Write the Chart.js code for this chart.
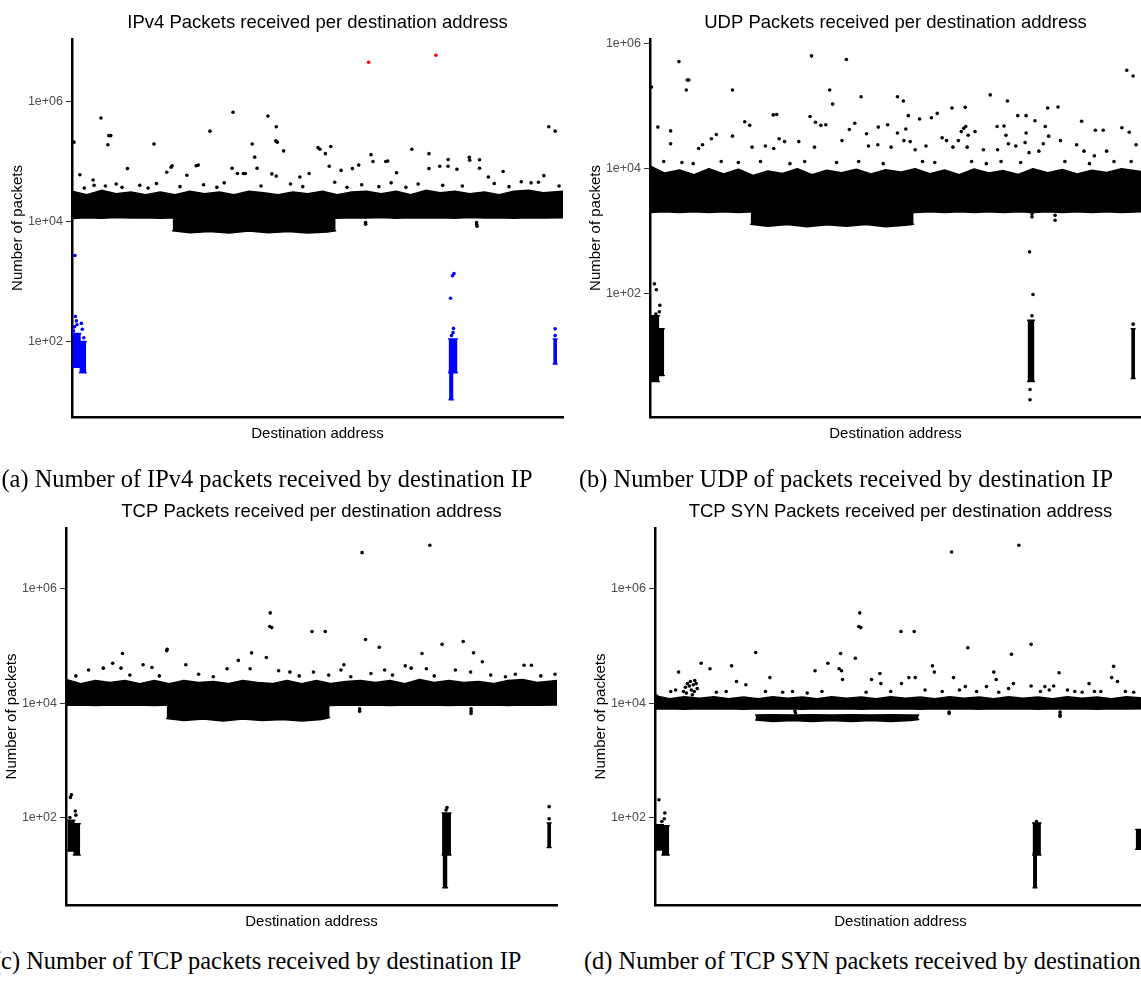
<!DOCTYPE html>
<html>
<head>
<meta charset="utf-8">
<script src="https://cdn.jsdelivr.net/npm/chart.js@4.4.0/dist/chart.umd.min.js"></script>
<style>
body { margin: 0; width: 1141px; height: 981px; overflow: hidden; background: #fff; position: relative; }
.panel { position: absolute; width: 575px; }
.caption { position: absolute; font-family: 'Liberation Serif', 'Times New Roman', serif; font-size: 24.4px; line-height: 24px; white-space: nowrap; color: #000; }
</style>
</head>
<body>
<div class="panel" style="left:0px;top:0px;height:450px"><canvas id="chartA"></canvas></div>
<div class="panel" style="left:578px;top:0px;height:450px"><canvas id="chartB"></canvas></div>
<div class="panel" style="left:-6px;top:489px;height:449px"><canvas id="chartC"></canvas></div>
<div class="panel" style="left:583px;top:489px;height:449px"><canvas id="chartD"></canvas></div>
<div class="caption" style="left:1.5px;top:467px">(a) Number of IPv4 packets received by destination IP</div>
<div class="caption" style="left:579px;top:467px">(b) Number UDP of packets received by destination IP</div>
<div class="caption" style="left:-7px;top:949px">(c) Number of TCP packets received by destination IP</div>
<div class="caption" style="left:584px;top:949px">(d) Number of TCP SYN packets received by destination IP</div>
<script>
// y axis ticks shared by the four plots
const tickValues = [1e2, 1e4, 1e6];
const tickLabels = ['1e+02', '1e+04', '1e+06'];

// x positions (percent of the address range) for the main dense band
const bandXs = [0, 3, 6, 9, 12, 15, 18, 21, 24, 27, 30, 33, 36, 39, 42, 45, 48, 51, 54, 57, 60, 63, 66, 69, 72, 75, 78, 81, 84, 87, 90, 93, 96, 100];
// x positions of the lower block between ~20% and ~54%
const subXs = [20.5, 24, 28, 32, 36, 40, 44, 48, 52, 53.7];

// ---- (a) IPv4 ----
const ipv4BandLow = [1.12e4, 1.15e4, 1.13e4, 1.16e4, 1.14e4, 1.15e4, 1.13e4, 1.15e4, 1.14e4, 1.16e4, 1.13e4, 1.15e4, 1.14e4, 1.15e4, 1.13e4, 1.16e4, 1.14e4, 1.15e4, 1.13e4, 1.15e4, 1.14e4, 1.16e4, 1.13e4, 1.15e4, 1.14e4, 1.15e4, 1.13e4, 1.16e4, 1.14e4, 1.15e4, 1.13e4, 1.15e4, 1.14e4, 1.15e4];
const ipv4BandHigh = [3.2e4, 2.8e4, 3.3e4, 2.9e4, 3.1e4, 2.8e4, 3.1e4, 2.8e4, 3.2e4, 2.9e4, 3.1e4, 2.8e4, 3.2e4, 3.0e4, 2.8e4, 3.1e4, 2.9e4, 3.2e4, 2.8e4, 3.1e4, 3.2e4, 2.9e4, 3.2e4, 2.8e4, 3.3e4, 3.0e4, 3.2e4, 2.9e4, 3.1e4, 2.8e4, 3.2e4, 3.3e4, 3.0e4, 3.2e4];
const ipv4SubLow = [7.0e3, 6.5e3, 6.8e3, 6.4e3, 6.9e3, 6.5e3, 6.8e3, 6.4e3, 6.7e3, 7.0e3];
const ipv4SubHigh = [1.2e4, 1.2e4, 1.2e4, 1.2e4, 1.2e4, 1.2e4, 1.2e4, 1.2e4, 1.2e4, 1.2e4];
// low-count clusters: [x from, x to, low, high]
const ipv4Clusters = [[0.1, 1.8, 37, 135], [1.5, 2.9, 30, 100], [76.7, 78.5, 30, 110], [76.8, 77.7, 10.7, 32], [98.0, 98.8, 42, 110]];
const ipv4BluePoints = [[0.6, 2700], [0.7, 260], [0.9, 220], [1.0, 190], [1.9, 200], [2.1, 160], [0.5, 175], [0.3, 150], [2.4, 115], [77.7, 165], [77.6, 140], [77.3, 125], [77.1, 525], [77.5, 1250], [77.8, 1350], [98.4, 162], [98.4, 125]];
const ipv4RedPoints = [[60.4, 4.5e6], [74.1, 5.9e6]];
const ipv4Points = [
  [0.4, 2.1e5], [1.6, 6e4], [5.9, 5.3e5], [7.5, 2.7e5], [7.9, 2.7e5], [7.3, 1.9e5], [16.7, 1.95e5], [11.3, 7.6e4],
  [4.3, 4.9e4], [4.5, 4.0e4], [19.3, 6.6e4], [20.4, 8.5e4], [20.2, 8.0e4], [23.4, 5.9e4], [25.3, 8.5e4], [25.7, 8.7e4],
  [28.1, 3.2e5], [32.8, 6.6e5], [32.6, 7.7e4], [33.7, 6.3e4], [34.9, 6.3e4], [35.3, 6.3e4], [36.7, 1.95e5], [37.2, 1.18e5],
  [37.7, 7.7e4], [39.9, 5.7e5], [41.6, 3.8e5], [41.5, 2.2e5], [41.8, 2.1e5], [43.1, 1.5e5], [40.7, 6.2e4], [41.6, 5.7e4],
  [46.4, 5.5e4], [48.3, 6.3e4], [50.1, 1.7e5], [50.5, 1.6e5], [51.6, 1.35e5], [52.7, 1.78e5], [52.4, 8.3e4], [54.8, 7.1e4],
  [57.1, 7.6e4], [58.4, 8.7e4], [60.9, 1.3e5], [61.3, 1.0e5], [63.9, 1.0e5], [64.3, 1.02e5], [66.1, 6.5e4], [69.2, 1.6e5],
  [72.7, 1.35e5], [72.7, 7.6e4], [74.9, 8.3e4], [76.6, 1.08e5], [76.6, 8.3e4], [78.4, 7.4e4], [80.9, 1.17e5], [81.0, 1.05e5],
  [83.0, 1.07e5], [83.0, 7.7e4], [84.8, 5.5e4], [87.8, 6.8e4], [96.1, 5.8e4], [97.1, 3.8e5], [98.4, 3.2e5],
  [2.5, 3.6e4], [6.8, 3.9e4], [9.0, 4.2e4], [10.2, 3.7e4], [13.8, 4.0e4], [15.5, 3.6e4], [17.2, 4.3e4], [22.0, 3.8e4],
  [26.8, 4.1e4], [29.5, 3.7e4], [31.0, 4.4e4], [38.5, 3.9e4], [44.5, 4.2e4], [47.0, 3.8e4], [53.5, 4.5e4], [56.0, 3.7e4],
  [59.0, 4.1e4], [62.5, 3.8e4], [65.0, 4.4e4], [68.0, 3.7e4], [70.5, 4.2e4], [75.5, 4.0e4], [79.5, 3.9e4], [86.0, 4.3e4],
  [89.0, 3.8e4], [91.5, 4.6e4], [93.5, 4.4e4], [95.0, 4.5e4], [99.2, 3.9e4],
  [59.8, 9.6e3], [59.8, 9.0e3], [82.4, 9.6e3], [82.4, 8.9e3], [82.5, 8.3e3]
];

// ---- (b) UDP ----
const udpBandLow = [2.0e3, 2.05e3, 2.0e3, 2.05e3, 2.0e3, 2.05e3, 2.0e3, 2.05e3, 2.0e3, 2.05e3, 2.0e3, 2.05e3, 2.0e3, 2.05e3, 2.0e3, 2.05e3, 2.0e3, 2.05e3, 2.0e3, 2.05e3, 2.0e3, 2.05e3, 2.0e3, 2.05e3, 2.0e3, 2.05e3, 2.0e3, 2.05e3, 2.0e3, 2.05e3, 2.0e3, 2.05e3, 2.0e3, 2.05e3];
const udpBandHigh = [1.1e4, 8.5e3, 9.5e3, 8.0e3, 1.0e4, 8.2e3, 9.8e3, 7.8e3, 9.2e3, 8.4e3, 1.0e4, 8.0e3, 9.4e3, 8.6e3, 9.8e3, 8.2e3, 9.6e3, 8.8e3, 1.0e4, 8.3e3, 9.5e3, 8.0e3, 9.9e3, 8.5e3, 9.3e3, 8.1e3, 1.0e4, 8.6e3, 9.7e3, 8.2e3, 9.4e3, 8.7e3, 1.0e4, 9.0e3];
const udpSubLow = [1.3e3, 1.2e3, 1.28e3, 1.18e3, 1.27e3, 1.2e3, 1.28e3, 1.18e3, 1.25e3, 1.3e3];
const udpSubHigh = [2.1e3, 2.1e3, 2.1e3, 2.1e3, 2.1e3, 2.1e3, 2.1e3, 2.1e3, 2.1e3, 2.1e3];
const udpClusters = [[0.2, 1.9, 4.0, 45], [1.5, 2.9, 5, 28], [76.9, 78.3, 4.0, 38], [98.0, 98.8, 4.5, 28]];
const udpLowPoints = [[0.9, 145], [1.3, 117], [2.0, 66], [1.9, 52], [1.2, 48], [77.3, 470], [78.0, 98], [77.8, 45], [77.4, 3.0], [77.4, 2.05], [98.4, 33]];
const udpPoints = [
  [0.3, 2e5], [1.6, 4.6e4], [5.9, 5.1e5], [7.6, 2.6e5], [7.9, 2.6e5], [7.4, 1.8e5], [4.2, 4e4], [4.2, 2.5e4],
  [16.8, 1.8e5], [13.5, 3.5e4], [12.5, 3e4], [16.8, 3.3e4], [19.3, 5.6e4], [20.3, 4.9e4], [9.9, 2.1e4], [10.7, 2.4e4],
  [25.1, 7.2e4], [25.8, 7.3e4], [26.3, 3e4], [27.4, 2.7e4], [20.8, 2.2e4], [23.5, 2.3e4], [25.2, 2.1e4], [32.9, 6.3e5],
  [32.6, 6.8e4], [33.7, 5.5e4], [34.8, 4.9e4], [35.8, 5.0e4], [33.5, 2.2e4], [30.3, 2.7e4], [36.6, 1.8e5], [37.2, 1.07e5],
  [40.0, 5.5e5], [39.1, 2.8e4], [40.6, 4.2e4], [41.7, 5.3e4], [43.0, 1.4e5], [44.1, 3.6e4], [44.5, 2.3e4], [46.4, 2.4e4],
  [46.5, 4.6e4], [48.4, 5e4], [49.1, 2.2e4], [50.4, 1.4e5], [51.6, 1.2e5], [50.4, 3.7e4], [52.1, 4.3e4], [51.7, 2.8e4],
  [52.6, 7e4], [53.0, 2.7e4], [54.0, 2.0e4], [54.9, 6.2e4], [56.2, 2.3e4], [57.3, 6.5e4], [58.5, 7.6e4], [59.5, 3.1e4],
  [60.4, 2.8e4], [61.5, 9.3e4], [61.7, 2.2e4], [62.8, 2.8e4], [63.4, 3.9e4], [64.2, 9.5e4], [63.9, 4.4e4], [64.3, 4.7e4],
  [64.6, 2.2e4], [64.8, 3.4e4], [66.2, 3.9e4], [67.9, 2.0e4], [69.3, 1.5e5], [70.7, 4.7e4], [72.1, 4.8e4], [70.8, 2.0e4],
  [72.8, 1.2e5], [72.5, 3.4e4], [73.0, 2.5e4], [74.5, 2.3e4], [74.9, 7e4], [76.6, 7e4], [76.6, 3.7e4], [76.4, 2.6e4],
  [78.4, 5.8e4], [77.2, 1.8e4], [79.2, 1.9e4], [80.1, 2.5e4], [81.2, 3.3e4], [80.5, 4.7e4], [81.0, 9.3e4], [83.1, 9.6e4],
  [83.6, 2.8e4], [86.9, 2.4e4], [87.9, 5.7e4], [88.4, 1.9e4], [90.5, 1.6e4], [90.7, 4.1e4], [92.3, 4.1e4], [93.0, 1.9e4],
  [96.1, 4.5e4], [97.6, 3.8e4], [99.0, 2.4e4], [97.1, 3.7e5], [98.4, 3.0e5],
  [2.8, 1.3e4], [6.5, 1.25e4], [8.8, 1.2e4], [14.5, 1.3e4], [18.0, 1.25e4], [22.5, 1.3e4], [28.5, 1.2e4], [31.5, 1.3e4],
  [38.0, 1.25e4], [42.5, 1.3e4], [47.5, 1.2e4], [55.5, 1.3e4], [58.0, 1.25e4], [65.5, 1.3e4], [68.5, 1.2e4], [71.5, 1.3e4],
  [75.5, 1.25e4], [84.5, 1.3e4], [89.5, 1.2e4], [94.5, 1.3e4], [98.0, 1.3e4],
  [77.8, 1.9e3], [77.8, 1.7e3], [82.5, 1.8e3], [82.5, 1.5e3]
];

// ---- (c) TCP ----
const tcpBandLow = [9.2e3, 9.3e3, 9.1e3, 9.3e3, 9.2e3, 9.3e3, 9.1e3, 9.3e3, 9.2e3, 9.3e3, 9.1e3, 9.3e3, 9.2e3, 9.3e3, 9.1e3, 9.3e3, 9.2e3, 9.3e3, 9.1e3, 9.3e3, 9.2e3, 9.3e3, 9.1e3, 9.3e3, 9.2e3, 9.3e3, 9.1e3, 9.3e3, 9.2e3, 9.3e3, 9.1e3, 9.3e3, 9.2e3, 9.3e3];
const tcpBandHigh = [2.6e4, 2.2e4, 2.5e4, 2.3e4, 2.5e4, 2.2e4, 2.5e4, 2.2e4, 2.5e4, 2.3e4, 2.4e4, 2.2e4, 2.5e4, 2.3e4, 2.2e4, 2.5e4, 2.2e4, 2.5e4, 2.2e4, 2.4e4, 2.5e4, 2.3e4, 2.5e4, 2.2e4, 2.6e4, 2.3e4, 2.5e4, 2.3e4, 2.4e4, 2.2e4, 2.5e4, 2.6e4, 2.3e4, 2.5e4];
const tcpSubLow = [5.4e3, 5.0e3, 5.3e3, 4.9e3, 5.3e3, 5.0e3, 5.2e3, 4.9e3, 5.2e3, 5.6e3];
const tcpSubHigh = [9.5e3, 9.5e3, 9.5e3, 9.5e3, 9.5e3, 9.5e3, 9.5e3, 9.5e3, 9.5e3, 9.5e3];
const tcpClusters = [[0.3, 1.8, 26, 90], [1.5, 2.9, 22, 78], [76.6, 78.4, 22, 120], [76.7, 77.7, 5.9, 24], [98.0, 98.8, 30, 80]];
const tcpLowPoints = [[1.1, 250], [0.9, 225], [1.9, 130], [2.0, 110], [0.8, 100], [98.4, 155], [98.4, 95], [77.6, 150], [77.4, 135]];
const tcpPoints = [
  [60.3, 4.3e6], [74.1, 5.8e6], [41.6, 3.8e5], [41.5, 2.2e5], [41.9, 2.1e5], [50.1, 1.8e5], [52.8, 1.8e5], [61.0, 1.3e5],
  [63.8, 9.5e4], [76.6, 1.07e5], [80.9, 1.2e5], [83.0, 7.6e4], [84.8, 5.3e4], [72.5, 7.4e4], [73.4, 4e4], [11.5, 7.4e4],
  [11.2, 4.1e4], [9.5, 5e4], [20.5, 8.3e4], [20.6, 8.8e4], [24.4, 4.7e4], [15.7, 4.7e4], [17.5, 4.2e4], [4.6, 3.8e4],
  [7.6, 4.1e4], [35.1, 5.6e4], [37.8, 7.6e4], [40.8, 6.3e4], [37.5, 4.0e4], [32.8, 4.0e4], [43.3, 3.7e4], [45.6, 3.5e4],
  [50.4, 3.5e4], [56.6, 4.7e4], [56.0, 3.8e4], [69.1, 4.5e4], [70.3, 4.1e4], [64.9, 3.8e4], [62.1, 3.3e4], [93.3, 4.6e4],
  [94.8, 4.6e4], [79.3, 3.8e4], [82.4, 3.5e4], [96.7, 3.0e4], [99.6, 3.2e4],
  [2.0, 3.0e4], [13.0, 3.1e4], [19.0, 3.0e4], [27.0, 3.2e4], [30.0, 2.9e4], [47.5, 3.0e4], [53.5, 3.1e4], [58.0, 2.9e4],
  [66.5, 3.1e4], [75.0, 3.0e4], [86.5, 3.1e4], [89.5, 2.9e4], [91.5, 3.2e4],
  [59.8, 8.0e3], [59.8, 7.2e3], [82.5, 8.0e3], [82.5, 7.2e3], [82.5, 6.6e3]
];

// ---- (d) TCP SYN ----
const synBandLow = [7.9e3, 8.0e3, 7.8e3, 8.0e3, 7.9e3, 8.0e3, 7.8e3, 8.0e3, 7.9e3, 8.0e3, 7.8e3, 8.0e3, 7.9e3, 8.0e3, 7.8e3, 8.0e3, 7.9e3, 8.0e3, 7.8e3, 8.0e3, 7.9e3, 8.0e3, 7.8e3, 8.0e3, 7.9e3, 8.0e3, 7.8e3, 8.0e3, 7.9e3, 8.0e3, 7.8e3, 8.0e3, 7.9e3, 8.0e3];
const synBandHigh = [1.35e4, 1.2e4, 1.3e4, 1.22e4, 1.3e4, 1.2e4, 1.28e4, 1.2e4, 1.3e4, 1.22e4, 1.28e4, 1.2e4, 1.3e4, 1.22e4, 1.28e4, 1.2e4, 1.3e4, 1.22e4, 1.28e4, 1.2e4, 1.3e4, 1.22e4, 1.28e4, 1.2e4, 1.3e4, 1.22e4, 1.28e4, 1.2e4, 1.3e4, 1.22e4, 1.28e4, 1.2e4, 1.3e4, 1.22e4];
const synSubLow = [5.1e3, 4.8e3, 5.0e3, 4.8e3, 5.0e3, 4.8e3, 5.0e3, 4.8e3, 5.0e3, 5.2e3];
const synSubHigh = [6.2e3, 6.3e3, 6.2e3, 6.3e3, 6.2e3, 6.3e3, 6.2e3, 6.3e3, 6.2e3, 6.2e3];
const synClusters = [[0.2, 1.7, 27, 75], [1.4, 2.9, 22, 72], [76.9, 78.6, 22, 80], [77.0, 77.8, 5.9, 24], [97.9, 99.2, 28, 62]];
const synLowPoints = [[0.8, 205], [2.0, 120], [1.4, 85], [1.9, 95], [77.7, 85]];
const synPoints = [
  [60.4, 4.4e6], [74.1, 5.8e6], [41.7, 3.8e5], [41.5, 2.2e5], [41.9, 2.1e5], [50.1, 1.8e5], [52.8, 1.8e5], [63.7, 9.3e4],
  [76.6, 1.07e5], [72.6, 7.2e4], [20.5, 7.7e4], [37.8, 7.4e4], [40.8, 6.1e4], [35.2, 5e4], [32.6, 3.7e4], [37.5, 4e4],
  [38.0, 3.7e4], [38.2, 2.6e4], [4.8, 3.5e4], [9.4, 5e4], [11.2, 4e4], [15.6, 4.5e4], [16.6, 2.4e4], [18.5, 2.1e4],
  [23.4, 2.8e4], [56.5, 4.5e4], [56.9, 3.5e4], [60.8, 2.8e4], [69.0, 3.5e4], [69.5, 2.6e4], [82.3, 3.4e4], [93.4, 4.4e4],
  [93.0, 2.8e4], [94.2, 2.4e4], [88.4, 2.2e4], [44.1, 2.6e4], [45.8, 3.3e4], [46.0, 2.2e4], [50.2, 2.2e4], [51.7, 2.8e4],
  [53.0, 2.8e4], [63.2, 1.95e4], [67.5, 1.95e4], [73.0, 2.2e4], [76.6, 2.0e4], [79.4, 1.95e4], [81.2, 2.0e4],
  [5.8, 1.6e4], [6.2, 1.9e4], [6.6, 2.2e4], [7.0, 2.0e4], [7.4, 1.7e4], [7.8, 2.1e4], [8.1, 2.5e4], [8.4, 2.2e4],
  [6.4, 1.5e4], [8.0, 1.6e4], [7.2, 2.4e4], [8.6, 1.8e4], [7.6, 1.4e4],
  [3.2, 1.6e4], [4.2, 1.7e4], [12.5, 1.55e4], [14.5, 1.6e4], [22.5, 1.6e4], [26.0, 1.55e4], [28.0, 1.6e4], [31.0, 1.5e4],
  [34.0, 1.6e4], [43.0, 1.55e4], [48.0, 1.6e4], [55.0, 1.7e4], [58.5, 1.6e4], [62.0, 1.7e4], [65.5, 1.6e4], [70.0, 1.55e4],
  [72.0, 1.8e4], [78.5, 1.6e4], [80.3, 1.7e4], [84.0, 1.7e4], [85.5, 1.6e4], [87.0, 1.55e4], [89.5, 1.6e4], [90.8, 1.6e4],
  [95.8, 1.6e4], [97.5, 1.55e4],
  [59.9, 7.0e3], [59.9, 6.6e3], [82.5, 7.0e3], [82.5, 6.3e3], [82.5, 5.9e3], [28.5, 7.3e3], [28.6, 6.8e3], [0.2, 1.35e4], [0.4, 1.3e4]
];

Chart.defaults.font.family = "'Liberation Sans', Arial, sans-serif";
Chart.defaults.color = '#000';

function band(xs, lows, highs, color) {
  const lower = {
    type: 'line', data: xs.map((x, i) => ({ x: x, y: lows[i] })),
    borderColor: color, borderWidth: 1.5, borderJoinStyle: 'round', borderCapStyle: 'round',
    pointRadius: 0, fill: false, tension: 0
  };
  const upper = {
    type: 'line', data: xs.map((x, i) => ({ x: x, y: highs[i] })),
    borderColor: color, borderWidth: 1.5, borderJoinStyle: 'round', borderCapStyle: 'round',
    pointRadius: 0, fill: '-1', backgroundColor: color, tension: 0
  };
  return [lower, upper];
}

function dots(pairs, color) {
  return {
    type: 'scatter', data: pairs.map(p => ({ x: p[0], y: p[1] })),
    pointRadius: 1.8, pointBackgroundColor: color, pointBorderColor: color, pointBorderWidth: 0
  };
}

function clusterSets(list, color) {
  let out = [];
  list.forEach(c => { out = out.concat(band([c[0], c[1]], [c[2], c[2]], [c[3], c[3]], color)); });
  return out;
}

function makeChart(id, title, yMin, yMax, datasets) {
  new Chart(document.getElementById(id), {
    type: 'scatter',
    data: { datasets: datasets },
    options: {
      responsive: true,
      maintainAspectRatio: false,
      animation: false,
      devicePixelRatio: 1,
      events: [],
      layout: { padding: { left: 0, right: 12, top: 0, bottom: 0 } },
      plugins: {
        legend: { display: false },
        tooltip: { enabled: false },
        title: {
          display: true, text: title, fullSize: false, color: '#000',
          font: { size: 18.5, weight: 'normal' }, padding: { top: 12, bottom: 4.8 }
        }
      },
      scales: {
        x: {
          type: 'linear', min: 0, max: 100, bounds: 'data',
          afterFit: (s) => { s.height = 33; },
          ticks: { display: false },
          grid: { display: false },
          border: { display: true, color: '#000', width: 2.5 },
          title: { display: true, text: 'Destination address', color: '#000', font: { size: 15 }, padding: { top: 0, bottom: 7 } }
        },
        y: {
          type: 'logarithmic', min: yMin, max: yMax, bounds: 'data',
          afterBuildTicks: (s) => { s.ticks = tickValues.map(v => ({ value: v })); },
          afterFit: (s) => { s.width = 72; },
          ticks: {
            autoSkip: false, color: '#4d4d4d', font: { size: 12.5 }, padding: 3,
            callback: (v) => tickLabels[tickValues.indexOf(v)]
          },
          grid: { display: true, drawOnChartArea: false, drawTicks: true, tickLength: 6, color: '#333', lineWidth: 1 },
          border: { display: true, color: '#000', width: 2.5 },
          title: { display: true, text: 'Number of packets', color: '#000', font: { size: 15 }, padding: { top: 9, bottom: 0 } }
        }
      }
    }
  });
}

makeChart('chartA', 'IPv4 Packets received per destination address', 5.5, 1.1e7,
  band(bandXs, ipv4BandLow, ipv4BandHigh, '#000')
    .concat(band(subXs, ipv4SubLow, ipv4SubHigh, '#000'))
    .concat(clusterSets(ipv4Clusters, '#0000ff'))
    .concat([dots(ipv4Points, '#000'), dots(ipv4BluePoints, '#0000ff'), dots(ipv4RedPoints, '#ff0000')]));

makeChart('chartB', 'UDP Packets received per destination address', 1.09, 1.17e6,
  band(bandXs, udpBandLow, udpBandHigh, '#000')
    .concat(band(subXs, udpSubLow, udpSubHigh, '#000'))
    .concat(clusterSets(udpClusters, '#000'))
    .concat([dots(udpPoints, '#000'), dots(udpLowPoints, '#000')]));

makeChart('chartC', 'TCP Packets received per destination address', 2.95, 1.16e7,
  band(bandXs, tcpBandLow, tcpBandHigh, '#000')
    .concat(band(subXs, tcpSubLow, tcpSubHigh, '#000'))
    .concat(clusterSets(tcpClusters, '#000'))
    .concat([dots(tcpPoints, '#000'), dots(tcpLowPoints, '#000')]));

makeChart('chartD', 'TCP SYN Packets received per destination address', 2.95, 1.16e7,
  band(bandXs, synBandLow, synBandHigh, '#000')
    .concat(band(subXs, synSubLow, synSubHigh, '#000'))
    .concat(clusterSets(synClusters, '#000'))
    .concat([dots(synPoints, '#000'), dots(synLowPoints, '#000')]));
</script>
</body>
</html>
